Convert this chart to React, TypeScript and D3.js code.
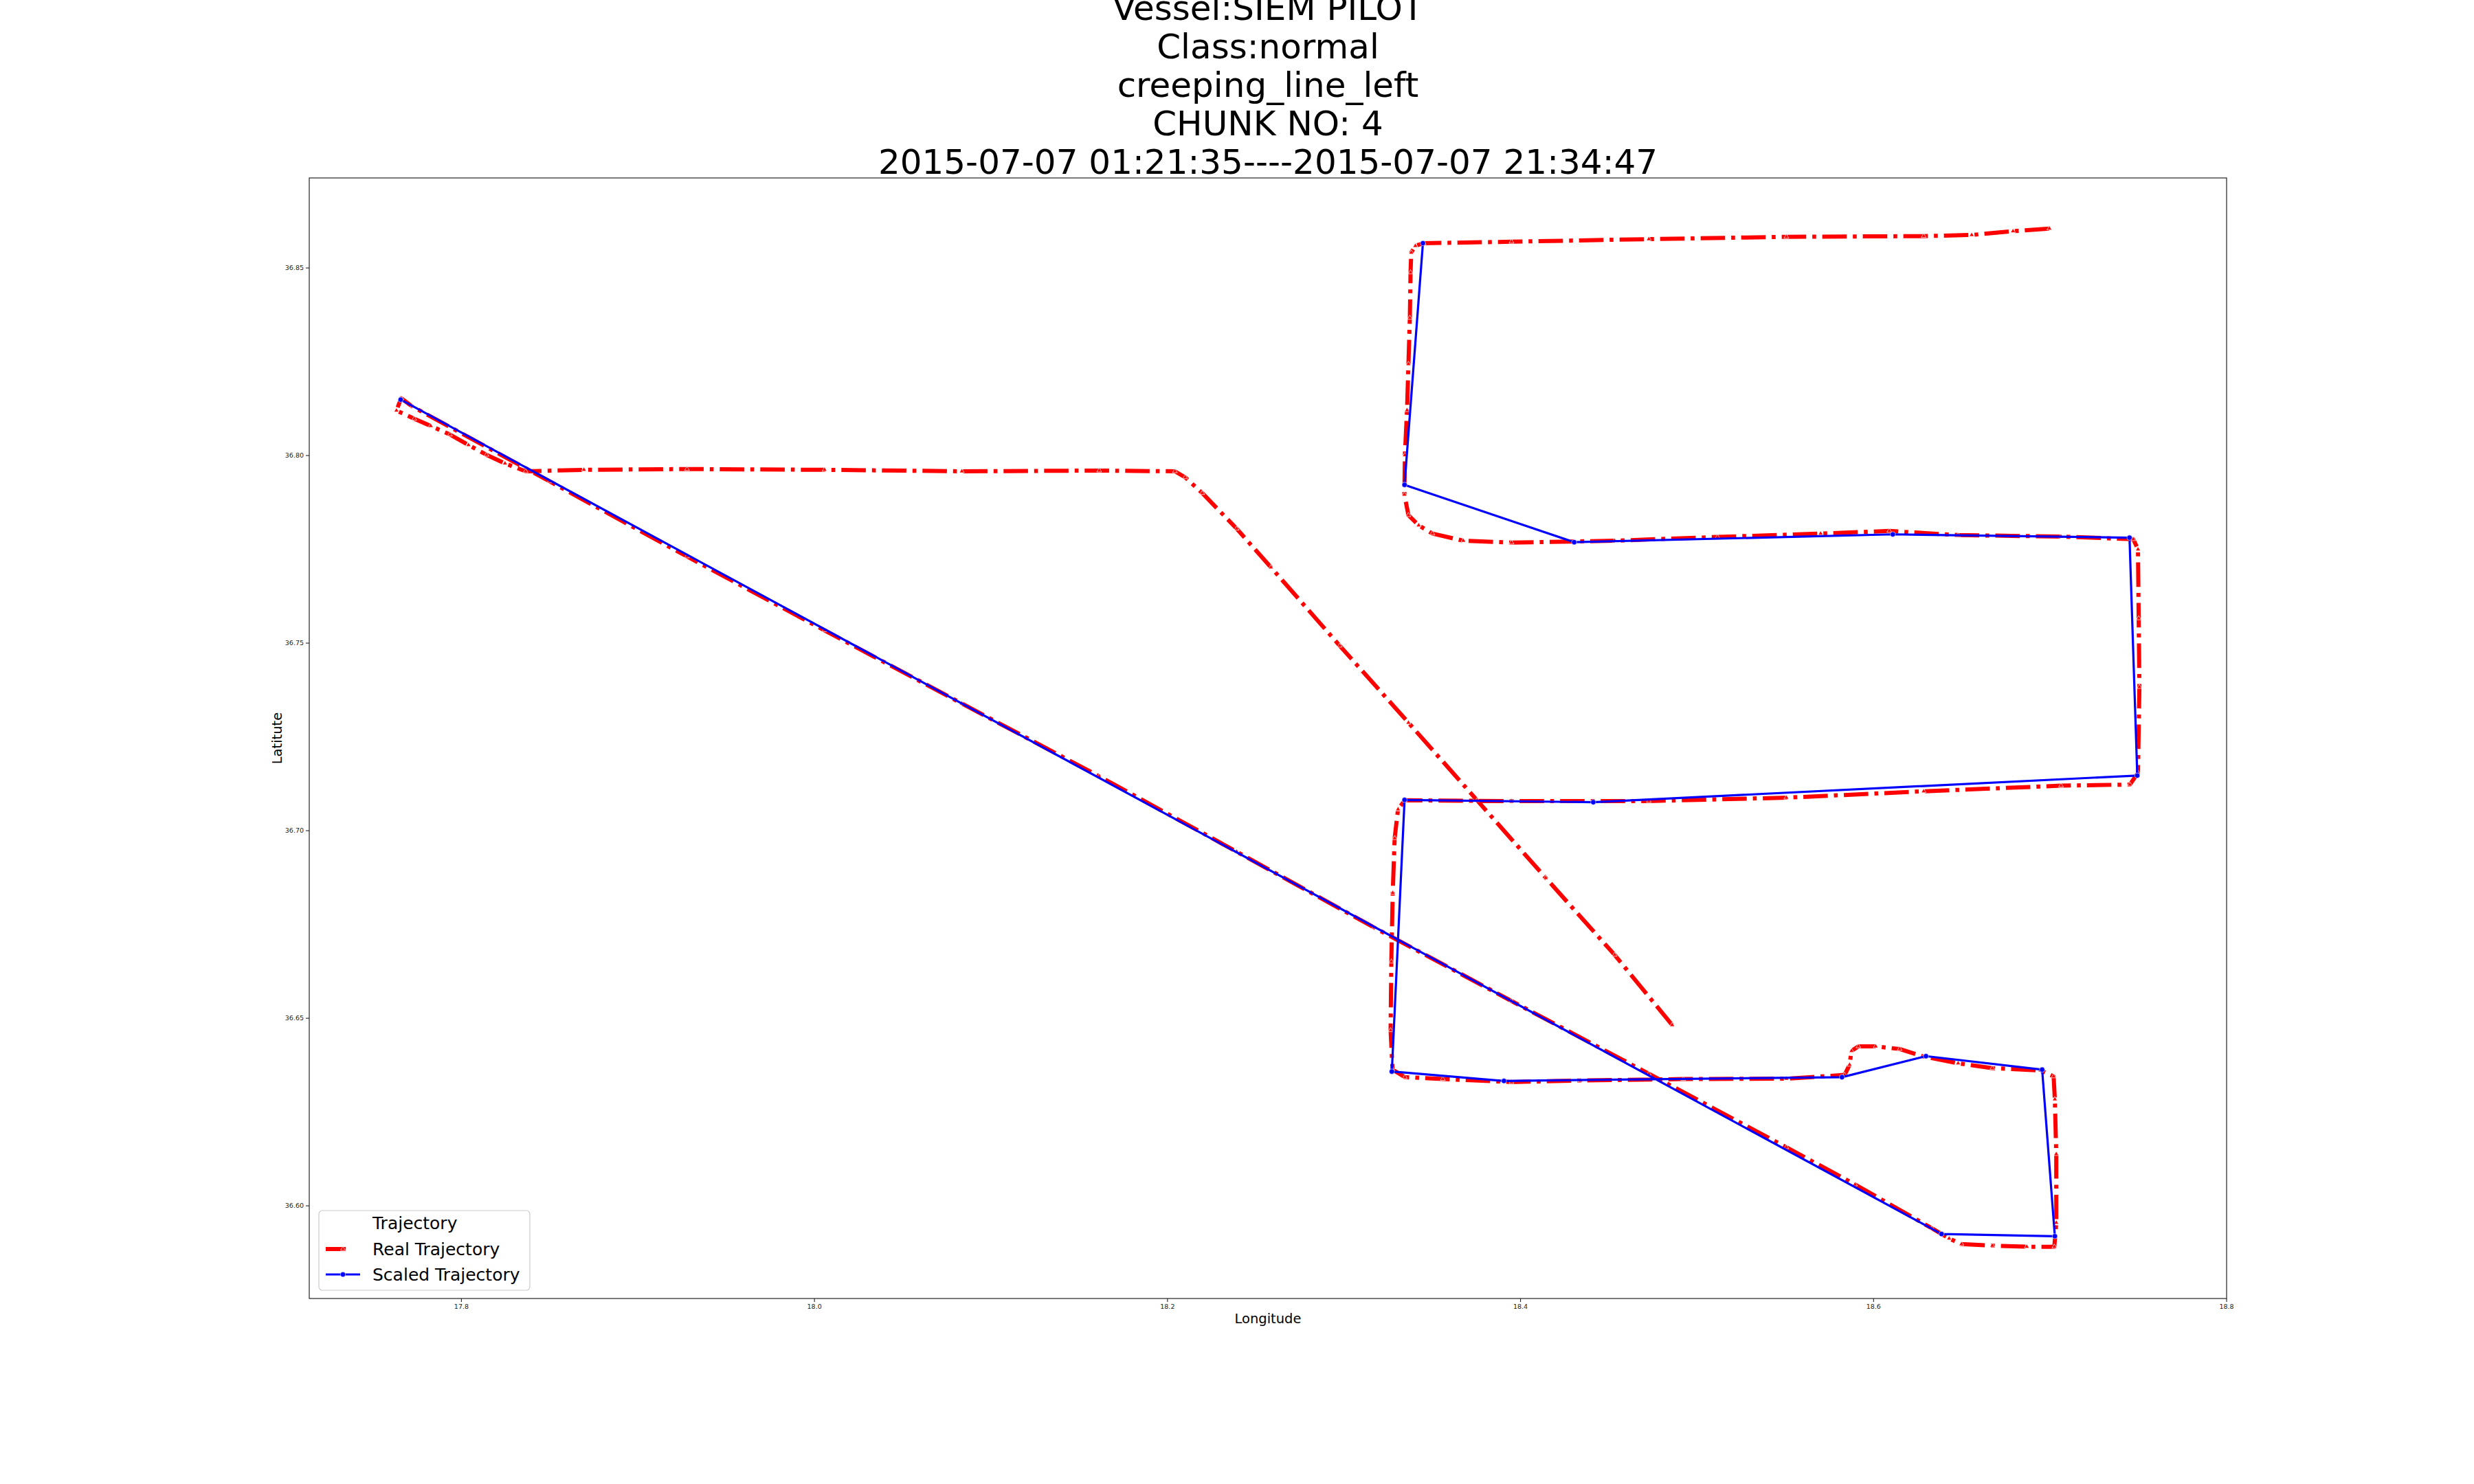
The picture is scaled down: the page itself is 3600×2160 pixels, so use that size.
import React from 'react';
import * as d3 from 'd3';

// title lines
const titleLines = [
  'Vessel:SIEM PILOT',
  'Class:normal',
  'creeping_line_left',
  'CHUNK NO: 4',
  '2015-07-07 01:21:35----2015-07-07 21:34:47',
];

const xTicks = [17.8, 18.0, 18.2, 18.4, 18.6, 18.8];
const yTicks = [36.6, 36.65, 36.7, 36.75, 36.8, 36.85];

// real trajectory [lon, lat]
const realLon = [
  18.4859, 18.4533, 18.4143, 18.3754, 18.3365, 18.2976, 18.2586, 18.2392, 18.2197, 18.21, 18.2042,
  18.1613, 18.0835, 18.0057, 17.9278, 17.8694, 17.8364,
  17.8247, 17.8142, 17.804, 17.7935, 17.7826, 17.7733, 17.7632, 17.7659,
  17.7721, 17.85, 17.9278, 18.0057, 18.0835, 18.1613, 18.2392, 18.317, 18.3949, 18.4727, 18.5506, 18.5895, 18.6331,
  18.6428, 18.6498, 18.6673, 18.6868, 18.7024,
  18.7035, 18.7035, 18.7027, 18.702,
  18.6946, 18.6673, 18.6479, 18.6284, 18.6148, 18.6012, 18.5914, 18.5875, 18.5864, 18.5836,
  18.5506, 18.4922, 18.4338, 18.3949, 18.356, 18.3345, 18.3275,
  18.3264, 18.3268, 18.3276, 18.3287, 18.3306, 18.3345,
  18.3949, 18.4727, 18.5506, 18.6284, 18.7062, 18.7452,
  18.7498, 18.7506, 18.7502, 18.7498, 18.7471,
  18.7062, 18.6479, 18.6089, 18.57, 18.5116, 18.4533, 18.3949, 18.3676, 18.3501, 18.3423, 18.3365, 18.3342,
  18.3345, 18.3357, 18.3365, 18.3373, 18.3377, 18.3381, 18.3404, 18.3451,
  18.3949, 18.4727, 18.5506, 18.6284, 18.6556, 18.679, 18.6996,
];
const realLat = [
  36.6482, 36.6669, 36.6874, 36.7081, 36.7288, 36.7493, 36.7702, 36.7805, 36.79, 36.7942, 36.7958,
  36.796, 36.7958, 36.7962, 36.7964, 36.7962, 36.7958,
  36.7979, 36.8002, 36.8028, 36.8056, 36.8079, 36.8098, 36.812, 36.8153,
  36.8131, 36.7931, 36.7731, 36.7534, 36.7339, 36.7145, 36.6944, 36.6742, 36.6546, 36.6352, 36.6156, 36.6057, 36.594,
  36.5913, 36.5898, 36.5894, 36.5891, 36.5891,
  36.5955, 36.6138, 36.6284, 36.6345,
  36.6361, 36.6367, 36.638, 36.6398, 36.6418, 36.6425, 36.6425, 36.6413, 36.6376, 36.6349,
  36.6339, 36.6338, 36.6334, 36.633, 36.6338, 36.6343, 36.6363,
  36.6468, 36.6651, 36.6834, 36.698, 36.7057, 36.7081,
  36.7079, 36.7079, 36.7088, 36.7105, 36.712, 36.7123,
  36.7154, 36.7383, 36.7566, 36.775, 36.7777,
  36.7784, 36.7788, 36.7799, 36.7792, 36.7783, 36.7773, 36.7768, 36.7773, 36.7792, 36.7814, 36.7841, 36.7896,
  36.8001, 36.8121, 36.8244, 36.8367, 36.8488, 36.8541, 36.8559, 36.8566,
  36.857, 36.8577, 36.8583, 36.8585, 36.8588, 36.8598, 36.8605,
];

// scaled trajectory
const scaledLon = [
  17.7656, 18.6385, 18.7027, 18.6955, 18.6297, 18.5821, 18.3906, 18.3271,
  18.3343, 18.4412, 18.7494, 18.745, 18.6109, 18.4304, 18.3343, 18.3447,
];
const scaledLat = [
  36.8149, 36.5925, 36.5919, 36.6363, 36.6399, 36.6343, 36.6333, 36.6358,
  36.7082, 36.7076, 36.7147, 36.7781, 36.779, 36.7769, 36.7922, 36.8566,
];

const W = 3600;
const H = 2160;
const plot = { left: 450, right: 3240, top: 259, bottom: 1890 };
const font = 'DejaVu Sans, sans-serif';
const redDash = '35.6 8.9 5.6 8.9';
const redW = 6;
const blueW = 3.2;

const App = () => {
  const x = d3.scaleLinear().domain([17.7138, 18.8]).range([plot.left, plot.right]);
  const y = d3.scaleLinear().domain([36.5753, 36.874]).range([plot.bottom, plot.top]);

  const real = realLon.map((d, i) => [d, realLat[i]]);
  const scaled = scaledLon.map((d, i) => [d, scaledLat[i]]);

  const line = d3.line<number[]>().x(d => x(d[0])).y(d => y(d[1]));
  const tri = d3.symbol().type(d3.symbolTriangle).size(22)();

  return (
    <div>
      <style>{'body{margin:0}'}</style>
      <svg width={W} height={H} style={{ display: 'block', background: '#fff' }} fontFamily={font}>
        {titleLines.map((t, i) => (
          <text key={t} x={1845} y={29 + i * 56} textAnchor="middle" fontSize={50} fill="#000">{t}</text>
        ))}

        <path d={line(real) || ''} fill="none" stroke="#ff0000" strokeWidth={redW}
          strokeDasharray={redDash} strokeLinejoin="round" />
        {real.map((d, i) => (
          <path key={i} d={tri || ''} transform={`translate(${x(d[0])},${y(d[1])})`}
            fill="#ff0000" stroke="#fff" strokeWidth={0.7} />
        ))}

        <path d={line(scaled) || ''} fill="none" stroke="#0000ff" strokeWidth={blueW} strokeLinejoin="round" />
        {scaled.map((d, i) => (
          <circle key={i} cx={x(d[0])} cy={y(d[1])} r={3.8} fill="#0000ff" stroke="#fff" strokeWidth={0.6} />
        ))}

        <rect x={plot.left} y={plot.top} width={plot.right - plot.left} height={plot.bottom - plot.top}
          fill="none" stroke="#222" strokeWidth={1.2} />

        {xTicks.map(t => (
          <g key={t} transform={`translate(${x(t)},${plot.bottom})`}>
            <line y2={5} stroke="#222" strokeWidth={1.1} />
            <text y={15} textAnchor="middle" fontSize={9.5} fill="#222">{t.toFixed(1)}</text>
          </g>
        ))}
        {yTicks.map(t => (
          <g key={t} transform={`translate(${plot.left},${y(t)})`}>
            <line x2={-5} stroke="#222" strokeWidth={1.1} />
            <text x={-8} dy="0.35em" textAnchor="end" fontSize={9.5} fill="#222">{t.toFixed(2)}</text>
          </g>
        ))}

        <text x={1845} y={1926} textAnchor="middle" fontSize={19.5} fill="#000">Longitude</text>
        <text transform={`translate(410,${(plot.top + plot.bottom) / 2}) rotate(-90)`} textAnchor="middle"
          fontSize={19.5} fill="#000">Latitute</text>

        <g>
          <rect x={464} y={1762} width={307} height={116} rx={5} fill="#fff" fillOpacity={0.8}
            stroke="#cccccc" strokeWidth={1.2} />
          <text x={542} y={1789} fontSize={25} fill="#000">Trajectory</text>
          <line x1={474} x2={503} y1={1818} y2={1818} stroke="#ff0000" strokeWidth={redW} />
          <path d={tri || ''} transform="translate(499,1818)" fill="#ff0000" stroke="#fff" strokeWidth={0.7} />
          <text x={542} y={1827} fontSize={25} fill="#000">Real Trajectory</text>
          <line x1={474} x2={524} y1={1855} y2={1855} stroke="#0000ff" strokeWidth={blueW} />
          <circle cx={499} cy={1855} r={3.8} fill="#0000ff" stroke="#fff" strokeWidth={0.6} />
          <text x={542} y={1864} fontSize={25} fill="#000">Scaled Trajectory</text>
        </g>
      </svg>
    </div>
  );
};

export default App;
